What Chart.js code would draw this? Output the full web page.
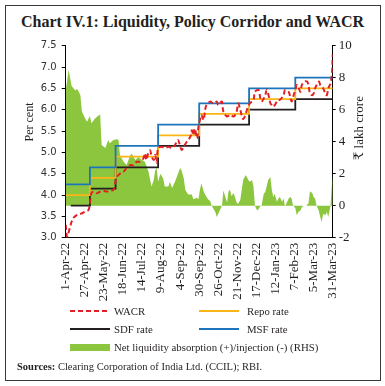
<!DOCTYPE html>
<html>
<head>
<meta charset="utf-8">
<script src="https://cdn.jsdelivr.net/npm/chart.js@4.4.1/dist/chart.umd.min.js"></script>
<style>
  html, body { margin: 0; padding: 0; background: #fff; }
  body { width: 385px; height: 386px; position: relative; overflow: hidden;
         font-family: "Liberation Serif", "DejaVu Serif", serif; color: #231f20; }
  .frame { position: absolute; left: 5px; top: 5px; width: 374px; height: 374px; border: 1px solid #3a3a3a; }
  .title { position: absolute; left: 0; top: 12px; width: 385px; text-align: center;
           font-weight: bold; font-size: 16px; line-height: 20px; }
  #wrap { position: absolute; left: 0; top: 0; width: 385px; height: 310px; }
  .sw { position: absolute; width: 40px; }
  .lt { position: absolute; font-size: 10.8px; line-height: 14px; white-space: nowrap; }
  .src { position: absolute; left: 17px; top: 360px; font-size: 10.5px; line-height: 14px; white-space: nowrap; }
</style>
</head>
<body>
<div class="frame"></div>
<div class="title">Chart IV.1: Liquidity, Policy Corridor and WACR</div>
<div id="wrap"><canvas id="chart"></canvas></div>

<div class="sw" style="left:70px;top:310px;height:2px;background:repeating-linear-gradient(to right,#e31e24 0 5px,transparent 5px 8px);"></div>
<div class="lt" style="left:114px;top:304px;">WACR</div>
<div class="sw" style="left:199px;top:310px;height:2px;background:#fbb516;"></div>
<div class="lt" style="left:247px;top:304px;">Repo rate</div>
<div class="sw" style="left:70px;top:328px;height:2px;background:#231f20;"></div>
<div class="lt" style="left:114px;top:322px;">SDF rate</div>
<div class="sw" style="left:199px;top:328px;height:2px;background:#1c75bc;"></div>
<div class="lt" style="left:247px;top:322px;">MSF rate</div>
<div class="sw" style="left:70px;top:344px;height:7px;background:#8cc63f;"></div>
<div class="lt" style="left:114px;top:340px;">Net liquidity absorption (+)/injection (-) (RHS)</div>
<div class="src"><b>Sources:</b> Clearing Corporation of India Ltd. (CCIL); RBI.</div>

<script>
// x is days since 1-Apr-22
const xTickDays = [0, 26, 52, 78, 104, 130, 156, 182, 208, 234, 260, 286, 312, 338, 364];
const xTickLabels = ['1-Apr-22', '27-Apr-22', '23-May-22', '18-Jun-22', '14-Jul-22', '9-Aug-22', '4-Sep-22',
  '30-Sep-22', '26-Oct-22', '21-Nov-22', '17-Dec-22', '12-Jan-23', '7-Feb-23', '5-Mar-23', '31-Mar-23'];

// policy corridor (change dates)
const policyDays = [0, 33, 68, 126, 182, 250, 313, 364];
const repoRate = [4.00, 4.40, 4.90, 5.40, 5.90, 6.25, 6.50, 6.50];
const msfRate = [4.25, 4.65, 5.15, 5.65, 6.15, 6.50, 6.75, 6.75];
const sdfDays = [7, 33, 68, 126, 182, 250, 313, 364];
const sdfRate = [3.75, 4.15, 4.65, 5.15, 5.65, 6.00, 6.25, 6.25];

// WACR, per cent
const wacrDays = [0, 2, 6, 10, 15, 22, 26, 31, 33, 35, 38, 42, 47, 51, 56, 60, 65, 67, 70, 74, 79, 83, 88, 92,
  97, 101, 106, 108, 110, 112, 115, 117, 120, 122, 124, 126, 131, 135, 140, 145, 149, 153, 158, 161, 165,
  170, 172, 174, 176, 179, 181, 183, 185, 188, 190, 192, 197, 201, 206, 208, 213, 215, 220, 224, 229, 233,
  235, 238, 240, 242, 245, 247, 249, 251, 256, 258, 263, 265, 267, 272, 274, 276, 279, 281, 283, 288, 290,
  292, 297, 299, 304, 306, 308, 310, 313, 315, 317, 320, 322, 326, 329, 331, 333, 336, 338, 340, 345, 347,
  349, 351, 354, 356, 358, 361, 363, 364];
const wacrValues = [3.30, 3.02, 3.26, 3.45, 3.53, 3.57, 3.61, 3.65, 3.80, 4.04, 4.08, 4.04, 4.08, 4.10, 4.08,
  4.10, 4.12, 4.25, 4.43, 4.50, 4.55, 4.63, 4.70, 4.70, 4.78, 4.78, 4.86, 4.98, 4.82, 4.95, 5.05, 4.92, 4.82,
  4.94, 4.76, 5.10, 5.13, 5.10, 5.13, 5.10, 5.17, 5.29, 5.06, 5.13, 5.25, 5.37, 5.52, 5.40, 5.56, 5.33, 5.60,
  5.76, 5.88, 5.76, 5.99, 6.11, 6.19, 6.15, 6.19, 6.11, 6.19, 5.95, 5.84, 5.88, 5.84, 5.95, 6.15, 6.00, 5.86,
  5.78, 5.88, 5.99, 6.07, 6.15, 6.23, 6.42, 6.46, 6.30, 6.19, 6.34, 6.46, 6.38, 6.15, 6.11, 6.07, 6.19, 6.23,
  6.23, 6.34, 6.46, 6.42, 6.30, 6.19, 6.30, 6.46, 6.58, 6.54, 6.42, 6.58, 6.66, 6.66, 6.58, 6.38, 6.34, 6.38,
  6.50, 6.66, 6.58, 6.54, 6.50, 6.38, 6.34, 6.50, 6.62, 6.85, 7.30];

// net liquidity absorption (+)/injection (-), lakh crore (RHS)
const liqDays = [0, 4, 8, 13, 15, 17, 20, 22, 26, 29, 33, 35, 40, 44, 47, 49, 54, 58, 60, 65, 70, 72, 74, 79,
  83, 88, 90, 95, 99, 104, 108, 113, 117, 120, 122, 124, 126, 129, 133, 135, 140, 142, 145, 149, 154, 156,
  158, 161, 163, 167, 172, 174, 179, 181, 183, 185, 188, 190, 194, 197, 199, 204, 206, 210, 213, 215, 217,
  220, 222, 224, 226, 229, 231, 233, 235, 238, 240, 242, 245, 247, 249, 251, 254, 256, 258, 261, 263, 265,
  267, 270, 272, 274, 276, 279, 281, 283, 285, 288, 290, 292, 295, 297, 299, 301, 304, 306, 308, 310, 313,
  315, 317, 320, 322, 324, 328, 331, 333, 336, 338, 340, 342, 345, 347, 349, 351, 354, 356, 358, 361, 363, 364];
const liqValues = [7.2, 8.5, 7.5, 7.2, 7.3, 7.2, 6.9, 5.9, 5.5, 5.25, 5.6, 5.15, 5.45, 5.6, 5.7, 3.8, 3.6, 4.1,
  3.9, 4.1, 4.15, 4.1, 3.15, 2.75, 2.55, 3.15, 3.25, 2.85, 3.05, 2.85, 2.75, 2.1, 1.2, 1.6, 2.2, 2.35, 1.5,
  2.0, 1.7, 1.2, 1.2, 1.5, 1.1, 1.5, 2.1, 2.35, 2.2, 1.7, 1.0, 0.7, 0.7, 0.4, 0.5, 0.4, 1.0, 1.4, 0.9, 0.7,
  0.4, 0.3, 0.0, -0.4, -0.7, -0.3, 0.0, 0.95, 0.65, 0.2, 0.9, 1.0, 0.6, 0.8, 0.5, 0.2, 0.1, 0.35, 1.0, 1.6,
  1.9, 1.8, 1.6, 1.5, 1.6, 1.2, 0.0, -0.3, -0.2, -0.05, 0.0, 0.75, 0.85, 1.2, 1.6, 1.8, 1.0, 0.55, 0.75,
  0.25, 0.45, 0.55, 0.25, 0.45, -0.05, 0.15, 0.45, 0.55, 0.45, 0.0, -0.15, -0.6, -0.4, -0.3, -0.1, 0.0, 0.0,
  0.15, 0.9, 0.8, 0.55, 0.45, 0.0, -0.3, -0.7, -1.0, -0.5, -0.6, -0.4, -0.7, 0.0, 1.4, 2.0];

const RED = '#e31e24';
const BLUE = '#1c75bc';
const ORANGE = '#fbb516';
const BLACK = '#231f20';
const GREEN = '#8cc63f';
const TEXT = '#231f20';

function toPoints(xs, ys) {
  return xs.map((x, i) => ({ x: x, y: ys[i] }));
}

// axis titles drawn on the canvas, left one reads bottom-to-top like the right one
const axisTitles = {
  id: 'axisTitles',
  afterDraw(chart) {
    const ctx = chart.ctx;
    ctx.save();
    ctx.fillStyle = TEXT;
    ctx.textAlign = 'center';
    ctx.textBaseline = 'middle';
    ctx.font = '12px "Liberation Serif", "DejaVu Serif", serif';
    ctx.translate(30, 122);
    ctx.rotate(-Math.PI / 2);
    ctx.fillText('Per cent', 0, 0);
    ctx.restore();

    ctx.save();
    ctx.fillStyle = TEXT;
    ctx.textAlign = 'center';
    ctx.textBaseline = 'middle';
    ctx.font = '13px "Liberation Serif", "DejaVu Serif", "Noto Sans", serif';
    ctx.translate(360, 128);
    ctx.rotate(-Math.PI / 2);
    ctx.fillText('₹ lakh crore', 0, 0);
    ctx.restore();
  }
};

new Chart(document.getElementById('chart'), {
  type: 'line',
  data: {
    datasets: [
      {
        label: 'WACR',
        data: toPoints(wacrDays, wacrValues),
        yAxisID: 'y',
        borderColor: RED,
        borderWidth: 2,
        borderDash: [5, 3],
        pointRadius: 0,
        tension: 0.35,
        order: 1
      },
      {
        label: 'MSF rate',
        data: toPoints(policyDays, msfRate),
        yAxisID: 'y',
        stepped: true,
        borderColor: BLUE,
        borderWidth: 1.8,
        pointRadius: 0,
        order: 2
      },
      {
        label: 'Repo rate',
        data: toPoints(policyDays, repoRate),
        yAxisID: 'y',
        stepped: true,
        borderColor: ORANGE,
        borderWidth: 1.8,
        pointRadius: 0,
        order: 3
      },
      {
        label: 'SDF rate',
        data: toPoints(sdfDays, sdfRate),
        yAxisID: 'y',
        stepped: true,
        borderColor: BLACK,
        borderWidth: 1.8,
        pointRadius: 0,
        order: 4
      },
      {
        label: 'Net liquidity absorption (+)/injection (-) (RHS)',
        data: toPoints(liqDays, liqValues),
        yAxisID: 'y2',
        fill: 'origin',
        backgroundColor: GREEN,
        borderWidth: 0,
        pointRadius: 0,
        tension: 0,
        order: 5
      }
    ]
  },
  options: {
    responsive: true,
    maintainAspectRatio: false,
    animation: false,
    layout: { padding: { top: 45.7, left: 0, right: 0, bottom: 0 } },
    plugins: {
      legend: { display: false },
      tooltip: { enabled: false }
    },
    scales: {
      x: {
        type: 'linear',
        min: 0,
        max: 364,
        afterBuildTicks: (scale) => { scale.ticks = xTickDays.map(v => ({ value: v })); },
        afterFit: (scale) => { scale.height = 72.3; },
        grid: { display: false, drawTicks: false },
        border: { display: true, color: '#000', width: 1 },
        ticks: {
          autoSkip: false,
          minRotation: 90,
          maxRotation: 90,
          padding: 5,
          color: TEXT,
          font: { family: '"Liberation Serif", "DejaVu Serif", serif', size: 13 },
          callback: (v, i) => xTickLabels[i]
        }
      },
      y: {
        position: 'left',
        min: 3.0,
        max: 7.5,
        afterFit: (scale) => { scale.width = 65.7; },
        grid: { display: true, drawOnChartArea: false, drawTicks: true, tickLength: 4, color: '#000' },
        border: { display: true, color: '#000', width: 1 },
        ticks: {
          stepSize: 0.5,
          padding: 5,
          color: '#333',
          font: { family: '"DejaVu Sans", sans-serif', size: 10 },
          callback: (v) => v.toFixed(1)
        }
      },
      y2: {
        position: 'right',
        min: -2,
        max: 10,
        afterFit: (scale) => { scale.width = 52.3; },
        grid: { display: true, drawOnChartArea: false, drawTicks: true, tickLength: 3, color: '#000' },
        border: { display: true, color: '#000', width: 1 },
        ticks: {
          stepSize: 2,
          padding: 3,
          color: TEXT,
          font: { family: '"Liberation Serif", "DejaVu Serif", serif', size: 13 }
        }
      }
    }
  },
  plugins: [axisTitles]
});
</script>
</body>
</html>
